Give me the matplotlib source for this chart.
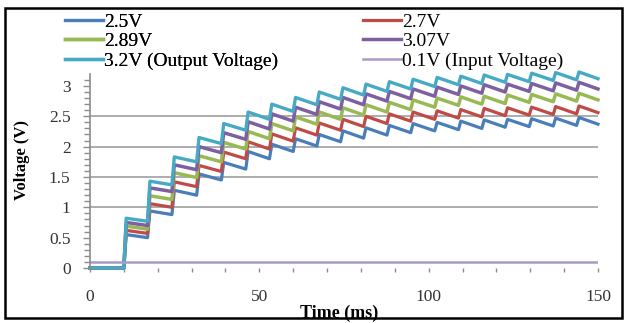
import matplotlib
matplotlib.use("Agg")
import matplotlib.pyplot as plt
from matplotlib.patches import Rectangle

plt.rcParams['font.family'] = ['Liberation Serif', 'DejaVu Serif']

# times (ms) at which each pump step occurs
jump_times = [10, 17, 24.2, 31.5, 38.8, 46, 53, 60, 67, 74,
              80.8, 87.7, 94.7, 101.8, 108.8, 115.7, 122.6, 129.7, 136.8, 143.7]
t_end = 150

# peak value right after each step, and value just before the next step
peaks_25 = [0.55, 0.94, 1.28, 1.55, 1.74, 1.92, 2.04, 2.13, 2.20, 2.26,
            2.31, 2.35, 2.38, 2.40, 2.42, 2.44, 2.45, 2.46, 2.47, 2.48]
trough_25 = [0.50, 0.88, 1.20, 1.45, 1.63, 1.80, 1.92, 2.01, 2.08, 2.14,
             2.19, 2.23, 2.26, 2.28, 2.30, 2.32, 2.33, 2.34, 2.35, 2.37]
peaks_27 = [0.62, 1.06, 1.42, 1.69, 1.91, 2.08, 2.21, 2.31, 2.39, 2.45,
            2.50, 2.54, 2.57, 2.59, 2.61, 2.63, 2.64, 2.65, 2.66, 2.67]
trough_27 = [0.57, 1.00, 1.34, 1.59, 1.80, 1.96, 2.09, 2.19, 2.27, 2.33,
             2.38, 2.42, 2.45, 2.47, 2.49, 2.51, 2.52, 2.53, 2.54, 2.56]
peaks_289 = [0.69, 1.19, 1.57, 1.85, 2.07, 2.25, 2.38, 2.49, 2.57, 2.64,
             2.69, 2.73, 2.77, 2.80, 2.82, 2.83, 2.85, 2.86, 2.87, 2.88]
trough_289 = [0.64, 1.13, 1.49, 1.75, 1.96, 2.13, 2.26, 2.37, 2.45, 2.52,
              2.57, 2.61, 2.65, 2.68, 2.70, 2.71, 2.73, 2.74, 2.75, 2.77]
peaks_307 = [0.75, 1.32, 1.70, 2.00, 2.23, 2.41, 2.54, 2.65, 2.74, 2.81,
             2.87, 2.91, 2.95, 2.98, 3.00, 3.02, 3.03, 3.04, 3.05, 3.06]
trough_307 = [0.70, 1.26, 1.62, 1.90, 2.12, 2.29, 2.42, 2.53, 2.62, 2.69,
              2.75, 2.79, 2.83, 2.86, 2.88, 2.90, 2.91, 2.92, 2.93, 2.95]
peaks_32 = [0.82, 1.43, 1.83, 2.15, 2.38, 2.57, 2.70, 2.81, 2.90, 2.97,
            3.03, 3.07, 3.11, 3.14, 3.16, 3.18, 3.19, 3.21, 3.22, 3.23]
trough_32 = [0.77, 1.37, 1.75, 2.05, 2.27, 2.45, 2.58, 2.69, 2.78, 2.85,
             2.91, 2.95, 2.99, 3.02, 3.04, 3.06, 3.07, 3.09, 3.10, 3.12]

input_t = [0, 150]
input_v = [0.1, 0.1]

labels = ['2.5V', '2.7V', '2.89V', '3.07V', '3.2V (Output Voltage)']
colors = ['#4A7EBB', '#BE4B48', '#98B954', '#7D60A0', '#46AAC5']
widths = [2.3, 2.3, 2.5, 2.5, 2.4]

RISE = 0.7  # ms taken by each step edge


def step_path(peaks, troughs):
    xs, ys = [0, jump_times[0]], [0, 0]
    for i, t in enumerate(jump_times):
        nxt = jump_times[i + 1] if i + 1 < len(jump_times) else t_end
        xs += [t + RISE, nxt]
        ys += [peaks[i], troughs[i]]
    return xs, ys


fig = plt.figure(figsize=(6.27, 3.23), dpi=100)
ax = fig.add_axes([0.1435, 0.1703, 0.8102, 0.6012])

handles = []
for pk, tr, lab, col, lw in zip([peaks_25, peaks_27, peaks_289, peaks_307, peaks_32],
                                [trough_25, trough_27, trough_289, trough_307, trough_32],
                                labels, colors, widths):
    x, y = step_path(pk, tr)
    h, = ax.plot(x, y, color=col, lw=lw, label=lab, clip_on=False,
                 solid_joinstyle='round')
    handles.append(h)
hin, = ax.plot(input_t, input_v, color='#A99BC8', lw=1.8, label='0.1V (Input Voltage)')
handles.append(hin)

ax.set_xlim(0, 150)
ax.set_ylim(0, 3.2)
ax.set_xticks([0, 50, 100, 150])
ax.set_xticks(range(0, 151, 10), minor=True)
ax.set_yticks([0, 0.5, 1, 1.5, 2, 2.5, 3])
ax.set_yticklabels(['0', '0.5', '1', '1.5', '2', '2.5', '3'])
ax.set_yticks([i / 10 for i in range(0, 32)], minor=True)

for v in [1, 1.5, 2, 2.5]:
    ax.axhline(v, color='#A0A0A0', lw=1.2, zorder=0)

for s in ['top', 'right', 'bottom']:
    ax.spines[s].set_visible(False)
ax.spines['left'].set_color('#8C8C8C')
ax.spines['left'].set_linewidth(1.2)

ax.tick_params(axis='x', which='both', length=3, width=1, color='#8C8C8C',
               labelsize=12.5, pad=12, labelcolor='#333333')
ax.tick_params(axis='y', which='major', length=5, width=1, color='#8C8C8C',
               labelsize=12.5, pad=9, labelcolor='#333333')
ax.tick_params(axis='y', which='minor', length=4, width=1, color='#8C8C8C')

fig.text(22 / 627, 1 - 160 / 323, 'Voltage (V)', rotation=90, fontsize=12,
         fontweight='bold', ha='center', va='center')
fig.text(339 / 627, 1 - 313 / 323, 'Time (ms)', fontsize=13,
         fontweight='bold', ha='center', va='center')

leg_kw = dict(loc='upper left', frameon=False, fontsize=14, borderpad=0,
              borderaxespad=0, labelspacing=0.1, handlelength=1.95,
              handletextpad=0.08)
leg1 = fig.legend(handles=[handles[0], handles[2], handles[4]],
                  bbox_to_anchor=(65 / 627, 1 - 13 / 323), **leg_kw)
fig.add_artist(leg1)
fig.legend(handles=[handles[1], handles[3], handles[5]],
           bbox_to_anchor=(363 / 627, 1 - 13 / 323), **leg_kw)

fig.patches.append(Rectangle((5 / 627, 5 / 323), 617 / 627, 310 / 323,
                             transform=fig.transFigure, fill=False,
                             edgecolor='black', lw=1.8))

fig.savefig('out.png', dpi=100)
